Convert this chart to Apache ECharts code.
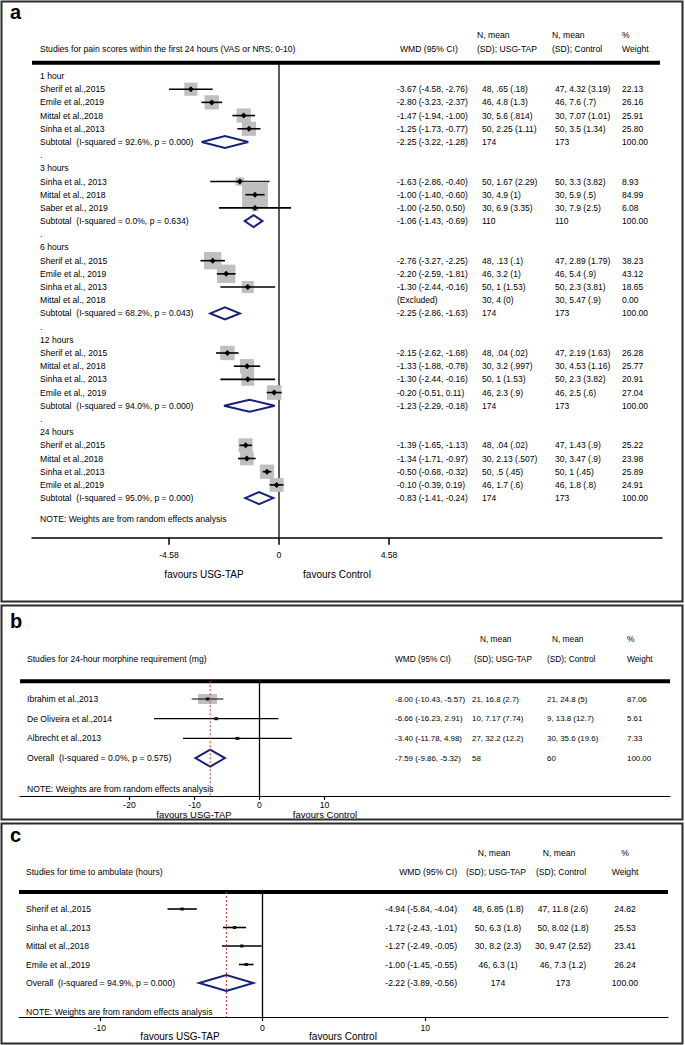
<!DOCTYPE html>
<html><head><meta charset="utf-8">
<script src="https://cdn.jsdelivr.net/npm/echarts@6/dist/echarts.min.js"></script>
<style>html,body{margin:0;padding:0;background:#fff}#c{width:685px;height:1045px}</style>
</head><body><div id="c"></div>
<script>
// ================= DATA =================
// Panel a: pain scores within the first 24 hours
const aLabels = ["1 hour","Sherif et al.,2015","Emile et al.,2019","Mittal et al.,2018","Sinha et al.,2013","Subtotal\u00a0\u00a0(I-squared = 92.6%, p = 0.000)",".",
  "3 hours","Sinha et al., 2013","Mittal et al., 2018","Saber et al., 2019","Subtotal\u00a0\u00a0(I-squared = 0.0%, p = 0.634)",".",
  "6 hours","Sherif et al., 2015","Emile et al., 2019","Sinha et al., 2013","Mittal et al., 2018","Subtotal\u00a0\u00a0(I-squared = 68.2%, p = 0.043)",".",
  "12 hours","Sherif et al., 2015","Mittal et al., 2018","Sinha et al., 2013","Emile et al., 2019","Subtotal\u00a0\u00a0(I-squared = 94.0%, p = 0.000)",".",
  "24 hours","Sherif et al.,2015","Mittal et al.,2018","Sinha et al.,2013","Emile et al.,2019","Subtotal\u00a0\u00a0(I-squared = 95.0%, p = 0.000)"];
const aEst = [null,-3.67,-2.80,-1.47,-1.25,-2.25,null, null,-1.63,-1.00,-1.00,-1.06,null, null,-2.76,-2.20,-1.30,null,-2.25,null, null,-2.15,-1.33,-1.30,-0.20,-1.23,null, null,-1.39,-1.34,-0.50,-0.10,-0.83];
const aLo  = [null,-4.58,-3.23,-1.94,-1.73,-3.22,null, null,-2.86,-1.40,-2.50,-1.43,null, null,-3.27,-2.59,-2.44,null,-2.86,null, null,-2.62,-1.88,-2.44,-0.51,-2.29,null, null,-1.65,-1.71,-0.68,-0.39,-1.41];
const aHi  = [null,-2.76,-2.37,-1.00,-0.77,-1.28,null, null,-0.40,-0.60,0.50,-0.69,null, null,-2.25,-1.81,-0.16,null,-1.63,null, null,-1.68,-0.78,-0.16,0.11,-0.18,null, null,-1.13,-0.97,-0.32,0.19,-0.24];
const aUSG = [null,"48, .65 (.18)","46, 4.8 (1.3)","30, 5.6 (.814)","50, 2.25 (1.11)","174",null,
  null,"50, 1.67 (2.29)","30, 4.9 (1)","30, 6.9 (3.35)","110",null,
  null,"48, .13 (.1)","46, 3.2 (1)","50, 1 (1.53)","30, 4 (0)","174",null,
  null,"48, .04 (.02)","30, 3.2 (.997)","50, 1 (1.53)","46, 2.3 (.9)","174",null,
  null,"48, .04 (.02)","30, 2.13 (.507)","50, .5 (.45)","46, 1.7 (.6)","174"];
const aCtrl = [null,"47, 4.32 (3.19)","46, 7.6 (.7)","30, 7.07 (1.01)","50, 3.5 (1.34)","173",null,
  null,"50, 3.3 (3.82)","30, 5.9 (.5)","30, 7.9 (2.5)","110",null,
  null,"47, 2.89 (1.79)","46, 5.4 (.9)","50, 2.3 (3.81)","30, 5.47 (.9)","173",null,
  null,"47, 2.19 (1.63)","30, 4.53 (1.16)","50, 2.3 (3.82)","46, 2.5 (.6)","173",null,
  null,"47, 1.43 (.9)","30, 3.47 (.9)","50, 1 (.45)","46, 1.8 (.8)","173"];
const aWeight = [null,22.13,26.16,25.91,25.80,100.00,null, null,8.93,84.99,6.08,100.00,null, null,38.23,43.12,18.65,0.00,100.00,null, null,26.28,25.77,20.91,27.04,100.00,null, null,25.22,23.98,25.89,24.91,100.00];
const aTicks = [-4.58, 0, 4.58];
const aHeader = {title:"Studies for pain scores within the first 24 hours (VAS or NRS; 0-10)"};

// Panel b: 24-hour morphine requirement
const bLabels = ["Ibrahim et al.,2013","De Oliveira et al.,2014","Albrecht et al.,2013","Overall\u00a0\u00a0(I-squared = 0.0%, p = 0.575)"];
const bEst = [-8.00,-6.66,-3.40,-7.59];
const bLo  = [-10.43,-16.23,-11.78,-9.86];
const bHi  = [-5.57,2.91,4.98,-5.32];
const bUSG = ["21, 16.8 (2.7)","10, 7.17 (7.74)","27, 32.2 (12.2)","58"];
const bCtrl = ["21, 24.8 (5)","9, 13.8 (12.7)","30, 35.6 (19.6)","60"];
const bWeight = [87.06,5.61,7.33,100.00];
const bTicks = [-20,-10,0,10];
const bHeader = {title:"Studies for 24-hour morphine requirement (mg)"};

// Panel c: time to ambulate
const cLabels = ["Sherif et al.,2015","Sinha et al.,2013","Mittal et al.,2018","Emile et al.,2019","Overall\u00a0\u00a0(I-squared = 94.9%, p = 0.000)"];
const cEst = [-4.94,-1.72,-1.27,-1.00,-2.22];
const cLo  = [-5.84,-2.43,-2.49,-1.45,-3.89];
const cHi  = [-4.04,-1.01,-0.05,-0.55,-0.56];
const cUSG = ["48, 6.85 (1.8)","50, 6.3 (1.8)","30, 8.2 (2.3)","46, 6.3 (1)","174"];
const cCtrl = ["47, 11.8 (2.6)","50, 8.02 (1.8)","30, 9.47 (2.52)","46, 7.3 (1.2)","173"];
const cWeight = [24.82,25.53,23.41,26.24,100.00];
const cTicks = [-10,0,10];
const cHeader = {title:"Studies for time to ambulate (hours)"};

const noteText = "NOTE: Weights are from random effects analysis";
const colHeads = {wmd:"WMD (95% CI)", n:"N, mean", usg:"(SD); USG-TAP", ctrl:"(SD); Control", pct:"%", wt:"Weight"};
const favours = ["favours USG-TAP","favours Control"];
const panelLetters = ["a","b","c"];

// ================= LAYOUT =================
const FONT = '"Liberation Sans", Arial, Helvetica, sans-serif';
const FS = 8.6;
const NAVY = '#14227c', GRAY = '#bfbfbf', RED = '#c0392b';

const L = [
  {left:32, right:662, zeroX:279, ppu:110/4.58, y0:76, rowH:13.19, yMin:-1, yMax:35, noteRow:33.56, labelX:40,
   cols:[[397,'left'],[482,'left'],[555,'left'],[622,'left']], numFs:8.5, headFs:8.6, box:[2.8,2.8], ciW:1.6, dia:6, mark:'diamond',
   tickLen:7, labelMargin:13, axisW:1.5, thickEnd:660,
   head:{y1:35,y2:49,title:40,wmd:[400,'left'],n1:[477,'left'],usg:[477,'left'],n2:[552,'left'],ctrl:[552,'left'],pct:[622,'left'],wt:[622,'left']},
   fav:[[204,574],[337,574]], favFs:10, letterY:2, frame:[1.5,1.5,681,600]},
  {left:20, right:670, zeroX:259.5, ppu:6.5, y0:699, rowH:19.7, yMin:-0.9, yMax:4.92, noteRow:4.57, labelX:27,
   cols:[[395,'left'],[472,'left'],[547,'left'],[627,'left']], numFs:7.9, headFs:8.3, box:[2.04,1.07], ciW:1.2, dia:8.5, mark:'square',
   tickLen:4, labelMargin:4.5, axisW:1.2, thickEnd:670,
   head:{y1:639,y2:659,title:27,wmd:[395,'left'],n1:[480,'left'],usg:[474,'left'],n2:[552,'left'],ctrl:[547,'left'],pct:[627,'left'],wt:[627,'left']},
   fav:[[194,814],[325,814]], favFs:9.5, letterY:611, frame:[1.5,605.5,681,214], overallLine:true},
  {left:19, right:668, zeroX:262.5, ppu:16.27, y0:909, rowH:18.5, yMin:-0.92, yMax:5.84, noteRow:5.57, labelX:26,
   cols:[[457,'right'],[498,'center'],[563,'center'],[625,'center']], numFs:8.6, headFs:8.6, box:null, ciW:1.6, dia:8, mark:'square',
   tickLen:4, labelMargin:6.5, axisW:1.2, thickEnd:668,
   head:{y1:853,y2:872,title:26,wmd:[457,'right'],n1:[494,'center'],usg:[496,'center'],n2:[559,'center'],ctrl:[561,'center'],pct:[625,'center'],wt:[625,'center']},
   fav:[[180,1036],[343,1036]], favFs:10, letterY:825, frame:[1.5,823.5,681,220], overallLine:true}
];

const panels = [
  {labels:aLabels, est:aEst, lo:aLo, hi:aHi, usg:aUSG, ctrl:aCtrl, w:aWeight, ticks:aTicks, header:aHeader},
  {labels:bLabels, est:bEst, lo:bLo, hi:bHi, usg:bUSG, ctrl:bCtrl, w:bWeight, ticks:bTicks, header:bHeader},
  {labels:cLabels, est:cEst, lo:cLo, hi:cHi, usg:cUSG, ctrl:cCtrl, w:cWeight, ticks:cTicks, header:cHeader}
];

const isSummary = s => /^(Subtotal|Overall)/.test(s);
const f2 = v => v.toFixed(2);

function txt(text, x, y, align, size, extra) {
  return Object.assign({type:'text', style:{text:text, x:x, y:y, fill:'#000',
    font: (size||FS) + 'px ' + FONT, textAlign:align||'left', textVerticalAlign:'middle',
    align:align||'left', verticalAlign:'middle'}}, extra||{});
}

const grids = [], xAxes = [], yAxes = [], series = [], graphics = [];

panels.forEach((p, k) => {
  const l = L[k];
  const xMin = (l.left - l.zeroX) / l.ppu, xMax = (l.right - l.zeroX) / l.ppu;
  const xThick = (l.thickEnd - l.zeroX) / l.ppu;
  grids.push({left:l.left, width:l.right - l.left, top:l.y0 + l.yMin * l.rowH, height:(l.yMax - l.yMin) * l.rowH, show:false});
  xAxes.push({type:'value', gridIndex:k, min:xMin, max:xMax, position:'bottom',
    splitLine:{show:false},
    axisLine:{show:true, onZero:false, lineStyle:{color:'#000', width:l.axisW}},
    axisTick:{show:true, customValues:p.ticks, length:l.tickLen, inside:false, lineStyle:{color:'#000', width:l.axisW}},
    axisLabel:{show:true, customValues:p.ticks, formatter:v => String(v), margin:l.labelMargin, fontSize:FS, fontFamily:FONT, color:'#000'}
  });
  yAxes.push({type:'value', gridIndex:k, inverse:true, min:l.yMin, max:l.yMax, show:false});

  // marks (boxes, CIs, point markers, diamonds)
  const idx = p.est.map((v, i) => v == null ? -1 : i).filter(i => i >= 0);
  series.push({type:'custom', xAxisIndex:k, yAxisIndex:k, clip:false, silent:true, z:3,
    data: idx.map(i => [p.est[i], i]),
    renderItem: (params, api) => {
      const i = idx[params.dataIndex];
      const y = api.coord([0, i])[1];
      const xe = api.coord([p.est[i], i])[0];
      const xl = api.coord([p.lo[i], i])[0];
      const xh = api.coord([p.hi[i], i])[0];
      const ch = [];
      if (isSummary(p.labels[i])) {
        ch.push({type:'polygon', shape:{points:[[xl,y],[xe,y-l.dia],[xh,y],[xe,y+l.dia]]},
          style:{fill:'none', stroke:NAVY, lineWidth:2}});
      } else {
        if (l.box && p.w[i] > 0) {
          const s = Math.sqrt(p.w[i]);
          const bw = l.box[0] * s, bh = l.box[1] * s;
          ch.push({type:'rect', shape:{x:xe-bw/2, y:y-bh/2, width:bw, height:bh}, style:{fill:GRAY}});
        }
        ch.push({type:'line', shape:{x1:xl, y1:y, x2:xh, y2:y}, style:{stroke:'#000', lineWidth:l.ciW}});
        if (l.mark === 'diamond') {
          ch.push({type:'polygon', shape:{points:[[xe-3,y],[xe,y-3],[xe+3,y],[xe,y+3]]}, style:{fill:'#000'}});
        } else {
          ch.push({type:'rect', shape:{x:xe-1.7, y:y-1.5, width:3.4, height:3}, style:{fill:'#111'}});
        }
      }
      return {type:'group', children:ch};
    }
  });

  // table text per row
  const rows = p.labels.map((_, i) => i);
  series.push({type:'custom', xAxisIndex:k, yAxisIndex:k, clip:false, silent:true, z:4,
    data: rows.map(i => [0, i]),
    renderItem: (params, api) => {
      const i = rows[params.dataIndex];
      const y = api.coord([0, i])[1];
      const ch = [txt(p.labels[i], l.labelX, y, 'left')];
      if (p.w[i] != null) {
        const wmd = p.est[i] == null ? '(Excluded)' : f2(p.est[i]) + ' (' + f2(p.lo[i]) + ', ' + f2(p.hi[i]) + ')';
        const vals = [wmd, p.usg[i], p.ctrl[i], f2(p.w[i])];
        vals.forEach((v, c) => ch.push(txt(v, l.cols[c][0], y, l.cols[c][1], l.numFs)));
      }
      return {type:'group', children:ch};
    }
  });

  // NOTE row
  series.push({type:'custom', xAxisIndex:k, yAxisIndex:k, clip:false, silent:true, z:4,
    data:[[0, l.noteRow]],
    renderItem: (params, api) => {
      const y = api.coord([0, l.noteRow])[1];
      return txt(noteText, l.labelX, y, 'left');
    }
  });

  // zero line
  series.push({type:'line', xAxisIndex:k, yAxisIndex:k, clip:false, silent:true, symbol:'none', z:2,
    data:[[0, l.yMin], [0, l.yMax]], lineStyle:{color:'#000', width:1.3}});
  // thick header rule
  series.push({type:'line', xAxisIndex:k, yAxisIndex:k, clip:false, silent:true, symbol:'none', z:5,
    data:[[xMin, l.yMin], [xThick, l.yMin]], lineStyle:{color:'#000', width:4}});
  // overall estimate dotted line
  if (l.overallLine) {
    const ov = p.est[p.est.length - 1];
    series.push({type:'line', xAxisIndex:k, yAxisIndex:k, clip:false, silent:true, symbol:'none', z:6,
      data:[[ov, l.yMin], [ov, l.yMax]], lineStyle:{color:RED, width:1, type:[2,2]}});
  }

  // headers, favours, letter, frame
  const h = l.head;
  graphics.push(txt(p.header.title, h.title, h.y2, 'left'));
  graphics.push(txt(colHeads.wmd, h.wmd[0], h.y2, h.wmd[1], l.headFs));
  graphics.push(txt(colHeads.n, h.n1[0], h.y1, h.n1[1], l.headFs));
  graphics.push(txt(colHeads.usg, h.usg[0], h.y2, h.usg[1], l.headFs));
  graphics.push(txt(colHeads.n, h.n2[0], h.y1, h.n2[1], l.headFs));
  graphics.push(txt(colHeads.ctrl, h.ctrl[0], h.y2, h.ctrl[1], l.headFs));
  graphics.push(txt(colHeads.pct, h.pct[0], h.y1, h.pct[1], l.headFs));
  graphics.push(txt(colHeads.wt, h.wt[0], h.y2, h.wt[1], l.headFs));
  favours.forEach((s, j) => graphics.push(txt(s, l.fav[j][0], l.fav[j][1], 'center', l.favFs)));
  graphics.push({type:'text', style:{text:panelLetters[k], x:10, y:l.letterY, fill:'#000',
    font:'bold 20px ' + FONT, textAlign:'left', textVerticalAlign:'top', align:'left', verticalAlign:'top'}});
  graphics.push({type:'rect', shape:{x:l.frame[0], y:l.frame[1], width:l.frame[2], height:l.frame[3]},
    style:{fill:'none', stroke:'#2b2b2b', lineWidth:2}});
});

const chart = echarts.init(document.getElementById('c'), null, {renderer:'svg', width:685, height:1045});
chart.setOption({
  animation:false,
  backgroundColor:'#fff',
  grid:grids, xAxis:xAxes, yAxis:yAxes, series:series,
  graphic:{elements:graphics}
});
</script></body></html>
